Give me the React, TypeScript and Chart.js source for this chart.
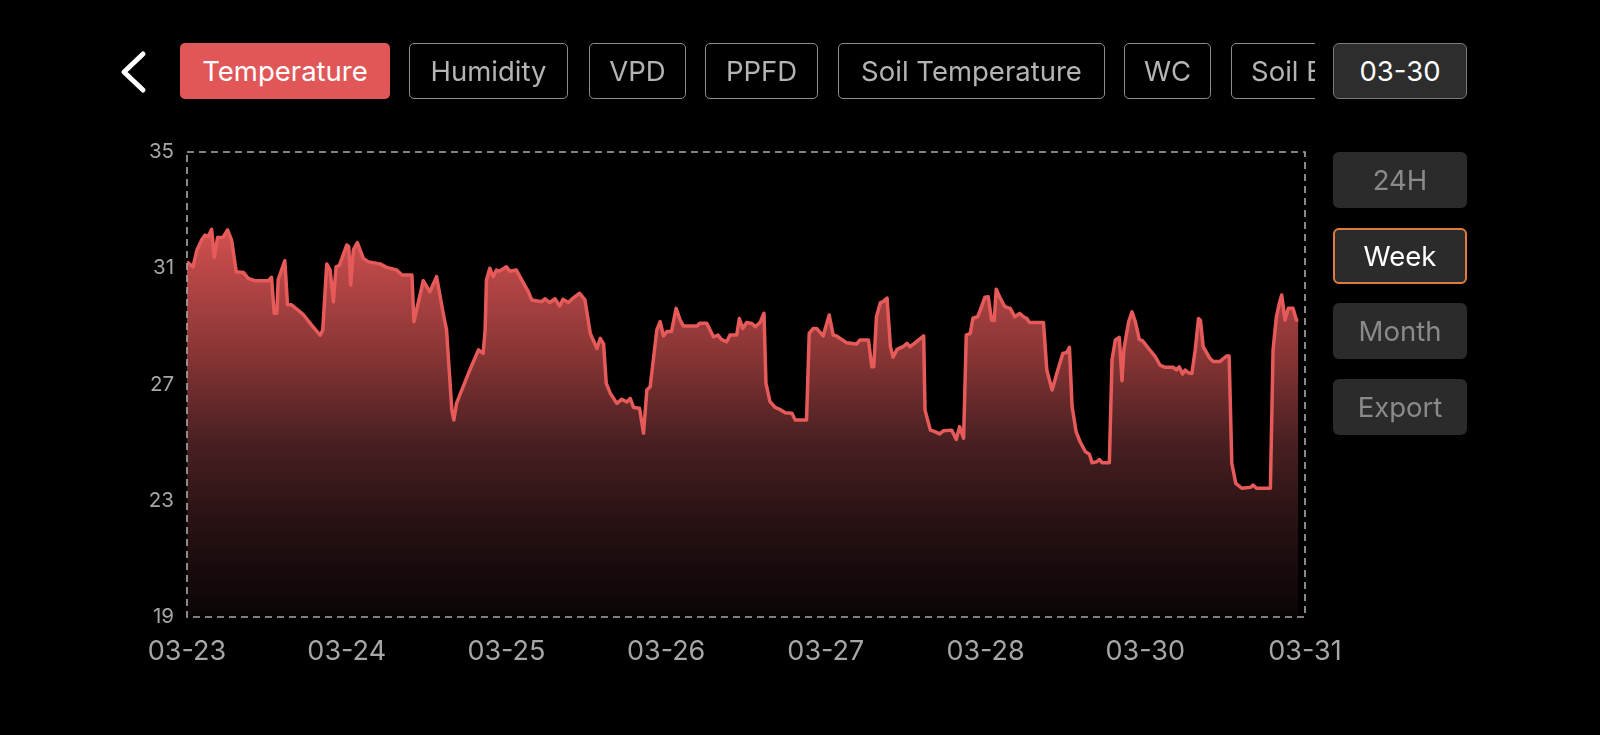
import React, { useEffect, useRef } from "react";
import { Chart, registerables } from "chart.js";

Chart.register(...registerables);

// ---- data ----
const xTickLabels = ["03-23", "03-24", "03-25", "03-26", "03-27", "03-28", "03-30", "03-31"];
const xTickHours = [0, 24, 48, 72, 96, 120, 144, 168];
const yTickValues = [19, 23, 27, 31, 35];

const tabs = ["Temperature", "Humidity", "VPD", "PPFD", "Soil Temperature", "WC", "Soil EC"];
const dateLabel = "03-30";
const rangeButtons = ["24H", "Week", "Month", "Export"];

// [hours since 03-23 00:00, temperature °C]
const day1: [number, number][] = [
  [0, 31.22], [0.9, 31.05], [1.5, 31.63], [2.2, 31.97], [2.7, 32.14], [3.2, 32.09], [3.7, 32.34], [4.1, 31.38],
  [4.6, 32.06], [5.4, 32.06], [6.1, 32.32], [6.7, 31.97], [7.4, 30.88], [8.5, 30.85], [9.2, 30.65], [10.2, 30.57],
  [12.2, 30.57], [12.7, 30.69], [13.1, 29.45], [13.5, 29.45], [13.7, 30.6], [14.7, 31.26], [15.1, 29.74], [15.7, 29.74],
  [17.0, 29.5], [17.5, 29.4], [18.7, 29.05], [20.0, 28.7], [20.4, 28.87], [21.0, 31.15], [21.5, 30.94], [22.0, 29.85],
  [22.4, 31.05], [22.9, 31.1],
];
const day2: [number, number][] = [
  [24.0, 31.8], [24.3, 31.75], [24.6, 30.42], [25.0, 31.63], [25.6, 31.88], [26.5, 31.34], [27.3, 31.22], [29.0, 31.15],
  [30.0, 31.03], [31.5, 30.94], [32.3, 30.77], [33.8, 30.77], [34.1, 29.16], [35.5, 30.57], [36.5, 30.19], [37.5, 30.71],
  [38.5, 29.45], [39.0, 28.88], [39.8, 26.12], [40.1, 25.78], [40.5, 26.35], [42.5, 27.5], [43.8, 28.19], [44.5, 28.07],
  [44.8, 28.88], [45.0, 30.6], [45.5, 31.0], [46.0, 30.71], [46.5, 30.94], [46.9, 30.9],
];
const day3: [number, number][] = [
  [48.0, 31.05], [48.5, 30.9], [49.5, 30.94], [50.3, 30.6], [51.3, 30.19], [51.8, 29.91], [53.3, 29.85], [53.8, 29.95],
  [54.5, 29.82], [55.3, 29.95], [56.0, 29.7], [56.5, 29.93], [57.3, 29.82], [58.0, 29.97], [59.0, 30.14], [59.8, 29.91],
  [60.6, 28.76], [61.6, 28.24], [62.1, 28.59], [62.6, 28.4], [63.0, 27.04], [63.6, 26.7], [64.6, 26.35], [65.3, 26.49],
  [66.1, 26.4], [66.6, 26.52], [67.1, 26.21], [68.0, 26.18], [68.6, 25.32], [69.1, 26.81], [69.6, 26.92], [70.6, 28.88],
  [71.1, 29.16], [71.6, 28.67],
];
const day4: [number, number][] = [
  [72.1, 28.82], [72.8, 28.82], [73.5, 29.62], [74.1, 29.22], [74.6, 29.01], [76.6, 29.01], [77.1, 29.11], [78.1, 29.11],
  [79.1, 28.64], [79.8, 28.7], [80.3, 28.55], [81.1, 28.47], [81.6, 28.7], [82.6, 28.7], [83.0, 29.27], [83.5, 28.93],
  [84.1, 29.13], [84.9, 29.1], [85.4, 28.99], [86.1, 29.13], [86.7, 29.45], [87.0, 27.04], [87.6, 26.41], [88.4, 26.21],
  [89.1, 26.14], [89.9, 26.03], [90.9, 26.01], [91.4, 25.78], [93.1, 25.78], [93.5, 28.76], [94.1, 28.93], [94.6, 28.93],
  [95.6, 28.67],
];
const day5: [number, number][] = [
  [96.5, 29.39], [97.1, 28.7], [97.6, 28.67], [99.1, 28.44], [100.6, 28.39], [101.1, 28.53], [102.4, 28.53], [102.9, 27.61],
  [103.2, 27.61], [103.6, 29.33], [104.2, 29.82], [104.6, 29.85], [105.2, 29.97], [105.7, 28.3], [106.1, 27.94], [106.7, 28.21],
  [107.6, 28.3], [108.2, 28.42], [108.6, 28.3], [109.2, 28.4], [109.9, 28.53], [110.7, 28.67], [110.9, 26.12], [111.7, 25.43],
  [112.4, 25.38], [113.1, 25.3], [113.7, 25.41], [114.9, 25.43], [115.6, 25.11], [116.1, 25.55], [116.7, 25.15], [117.1, 28.7],
  [117.7, 28.76], [118.1, 29.28], [118.8, 29.33], [119.2, 29.56], [119.9, 30.0],
];
const day6: [number, number][] = [
  [120.4, 30.02], [120.9, 29.22], [121.3, 29.2], [121.6, 30.28], [122.2, 29.97], [122.9, 29.68], [123.7, 29.62], [124.4, 29.33],
  [125.1, 29.45], [125.7, 29.33], [126.2, 29.27], [126.6, 29.13], [128.7, 29.13], [129.2, 27.5], [130.0, 26.81], [130.7, 27.38],
  [131.6, 28.07], [132.2, 28.1], [132.6, 28.28], [133.0, 26.24], [133.6, 25.38], [134.2, 25.03], [135.0, 24.69], [135.6, 24.6],
  [136.0, 24.31], [136.7, 24.34], [137.1, 24.42], [137.5, 24.31], [138.6, 24.31], [139.0, 27.84], [139.5, 28.53], [140.1, 28.62],
  [140.5, 27.13], [140.8, 28.24], [141.5, 29.16], [142.0, 29.5], [142.5, 29.16], [143.1, 28.55], [143.6, 28.5],
];
const day7: [number, number][] = [
  [144.5, 28.24], [145.5, 27.96], [146.2, 27.67], [147.0, 27.59], [148.2, 27.59], [148.7, 27.5], [149.1, 27.61], [149.6, 27.36],
  [150.0, 27.5], [150.5, 27.4], [151.0, 27.38], [151.5, 28.19], [152.0, 29.27], [152.3, 29.2], [152.7, 28.3], [153.7, 27.9],
  [154.2, 27.79], [155.2, 27.79], [156.2, 27.98], [156.6, 27.98], [157.0, 24.29], [157.6, 23.6], [158.5, 23.43], [159.8, 23.46],
  [160.2, 23.54], [160.7, 23.43], [162.8, 23.43], [163.2, 28.19], [163.7, 29.33], [164.2, 29.85], [164.5, 30.08], [165.0, 29.22],
  [165.5, 29.62], [166.2, 29.62], [166.7, 29.22], [167.0, 29.22],
];

const FONT = "Inter, 'Noto Sans', sans-serif";

const dashedFrame = {
  id: "dashedFrame",
  afterDatasetsDraw(chart: any) {
    const { ctx, chartArea } = chart;
    if (!chartArea) return;
    ctx.save();
    ctx.strokeStyle = "#ababab";
    ctx.lineWidth = 1.6;
    ctx.setLineDash([7, 5]);
    ctx.strokeRect(chartArea.left, chartArea.top, chartArea.right - chartArea.left, chartArea.bottom - chartArea.top);
    ctx.restore();
  },
};

function TempChart() {
  const ref = useRef<HTMLCanvasElement | null>(null);
  useEffect(() => {
    if (!ref.current) return;
    const points = [...day1, ...day2, ...day3, ...day4, ...day5, ...day6, ...day7].map(([x, y]) => ({ x, y }));
    const chart = new Chart(ref.current, {
      type: "line",
      data: {
        datasets: [
          {
            data: points,
            borderColor: "#e65a5a",
            borderWidth: 3.5,
            pointRadius: 0,
            tension: 0,
            borderJoinStyle: "round",
            fill: "start",
            backgroundColor: (c: any) => {
              const ca = c.chart.chartArea;
              if (!ca) return "rgba(0,0,0,0)";
              const g = c.chart.ctx.createLinearGradient(0, ca.top, 0, ca.bottom);
              g.addColorStop(0, "rgb(235,92,92)");
              g.addColorStop(0.17, "rgb(210,80,80)");
              g.addColorStop(0.25, "rgb(186,71,71)");
              g.addColorStop(0.43, "rgb(138,53,53)");
              g.addColorStop(0.62, "rgb(74,32,34)");
              g.addColorStop(0.81, "rgb(37,16,18)");
              g.addColorStop(1, "rgb(10,5,5)");
              return g;
            },
          },
        ],
      },
      options: {
        animation: false,
        responsive: false,
        devicePixelRatio: 1,
        layout: { padding: { left: 100, top: 152, right: 295, bottom: 58 } },
        plugins: { legend: { display: false }, tooltip: { enabled: false } },
        scales: {
          x: {
            type: "linear",
            min: 0,
            max: 168,
            grid: { display: false, drawTicks: false },
            border: { display: false },
            afterBuildTicks: (s: any) => {
              s.ticks = xTickHours.map((v) => ({ value: v }));
            },
            ticks: {
              autoSkip: false,
              maxRotation: 0,
              padding: 19,
              color: "#a6a6a6",
              font: { family: FONT, size: 27 },
              callback: (_v: any, i: number) => xTickLabels[i],
            },
            afterFit: (s: any) => {
              s.height = 60;
              s.paddingLeft = 0;
              s.paddingRight = 0;
            },
          },
          y: {
            type: "linear",
            min: 19,
            max: 35,
            grid: { display: false, drawTicks: false },
            border: { display: false },
            afterBuildTicks: (s: any) => {
              s.ticks = yTickValues.map((v) => ({ value: v }));
            },
            ticks: {
              padding: 13,
              color: "#a6a6a6",
              font: { family: FONT, size: 20.5 },
              callback: (v: any) => String(v),
            },
            afterFit: (s: any) => {
              s.width = 87;
              s.paddingTop = 0;
              s.paddingBottom = 0;
            },
          },
        },
      },
      plugins: [dashedFrame],
    } as any);
    return () => chart.destroy();
  }, []);
  return (
    <canvas
      ref={ref}
      width={1600}
      height={735}
      style={{ position: "absolute", left: 0, top: 0, width: 1600, height: 735 }}
    />
  );
}

const tabGeom: [number, number][] = [
  [180, 210], [409, 159], [589, 97], [705, 113], [838, 267], [1124, 87], [1231, 150],
];

export default function App() {
  return (
    <div
      style={{
        position: "fixed",
        left: 0,
        top: 0,
        width: 1600,
        height: 735,
        background: "#000",
        overflow: "hidden",
        fontFamily: FONT,
      }}
    >
      <TempChart />
      <svg style={{ position: "absolute", left: 110, top: 45, width: 50, height: 54 }} viewBox="0 0 50 54">
        <polyline points="33,9 14,27 33,45" fill="none" stroke="#fff" strokeWidth={5} strokeLinecap="round" strokeLinejoin="round" />
      </svg>
      <div style={{ position: "absolute", left: 0, top: 43, width: 1315, height: 56, overflow: "hidden" }}>
        {tabs.map((t, i) => {
          const [l, w] = tabGeom[i];
          const active = i === 0;
          return (
            <div
              key={t}
              style={{
                position: "absolute",
                left: l,
                top: 0,
                width: w,
                height: 56,
                boxSizing: "border-box",
                borderRadius: 5,
                background: active ? "#e15757" : "transparent",
                border: active ? "none" : "1.5px solid #8c8c8c",
                color: active ? "#fff" : "#b4b4b4",
                fontSize: 27.5,
                display: "flex",
                alignItems: "center",
                justifyContent: i === 6 ? "flex-start" : "center",
                paddingLeft: i === 6 ? 19 : 0,
                whiteSpace: "nowrap",
              }}
            >
              {t}
            </div>
          );
        })}
      </div>
      <div
        style={{
          position: "absolute",
          left: 1333,
          top: 43,
          width: 134,
          height: 56,
          boxSizing: "border-box",
          borderRadius: 6,
          background: "#2d2d2d",
          border: "1.5px solid #7a7a7a",
          color: "#fff",
          fontSize: 27.5,
          display: "flex",
          alignItems: "center",
          justifyContent: "center",
        }}
      >
        {dateLabel}
      </div>
      {rangeButtons.map((b, i) => {
        const tops = [152, 228, 303, 379];
        const active = b === "Week";
        return (
          <div
            key={b}
            style={{
              position: "absolute",
              left: 1333,
              top: tops[i],
              width: 134,
              height: 56,
              boxSizing: "border-box",
              borderRadius: 6,
              background: "#2b2b2b",
              border: active ? "2px solid #e07a3e" : "none",
              color: active ? "#fff" : "#8a8a8a",
              fontSize: 27.5,
              display: "flex",
              alignItems: "center",
              justifyContent: "center",
            }}
          >
            {b}
          </div>
        );
      })}
    </div>
  );
}
